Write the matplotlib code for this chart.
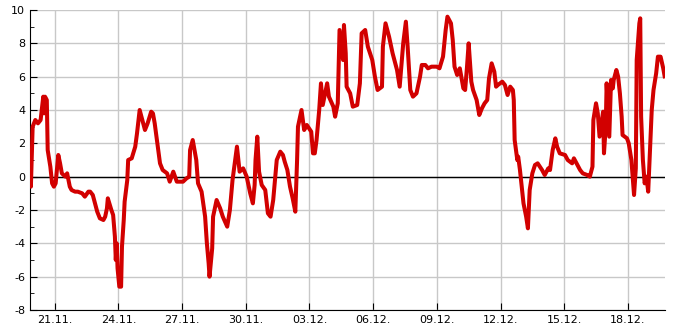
import numpy as np
import pandas as pd
import matplotlib
matplotlib.use('Agg')
import matplotlib.pyplot as plt
import matplotlib.dates as mdates
from matplotlib.ticker import MultipleLocator

plt.rcParams['axes.unicode_minus'] = False
plt.rcParams['font.family'] = 'DejaVu Sans'

# temperature readings, hours since 19.11. 20:00
start = pd.Timestamp('2023-11-19 20:00')
hours = [
    0, 1, 2, 3, 6, 9, 12, 15, 16, 17, 19, 20, 23, 25, 27, 29, 32, 34, 36, 40,
    42, 45, 47, 51, 54, 59, 62, 66, 68, 71, 76, 79, 83, 85, 87, 88, 92, 94, 96, 97,
    98, 99, 101, 103, 104, 106, 107, 110, 111, 115, 119, 121, 124, 128, 130, 133, 137, 139, 141, 145,
    147, 150, 155, 158, 162, 166, 170, 173, 177, 180, 181, 184, 188, 190, 194, 198, 200, 202, 203, 206,
    207, 211, 215, 218, 223, 226, 229, 233, 234, 237, 241, 245, 249, 252, 254, 255, 257, 259, 262, 266,
    269, 272, 275, 279, 283, 286, 288, 291, 294, 297, 300, 302, 303, 307, 310, 313, 318, 320, 322, 324,
    327, 329, 331, 336, 338, 343, 345, 348, 350, 354, 355, 357, 358, 362, 365, 370, 373, 375, 379, 382,
    387, 390, 393, 398, 399, 402, 406, 410, 415, 418, 422, 425, 427, 430, 433, 437, 441, 443, 447, 450,
    454, 460, 463, 467, 470, 472, 476, 478, 480, 483, 486, 490, 492, 494, 496, 499, 501, 505, 508, 511,
    514, 517, 519, 522, 525, 527, 529, 534, 537, 540, 543, 546, 547, 548, 551, 552, 554, 556, 558, 561,
    563, 565, 568, 571, 574, 579, 582, 586, 588, 591, 594, 596, 599, 605, 608, 613, 615, 618, 622, 625,
    630, 633, 636, 637, 640, 642, 644, 648, 649, 651, 652, 655, 657, 659, 660, 663, 665, 667, 669, 670,
    675, 677, 680, 682, 683, 685, 686, 689, 690, 691, 693, 695, 697, 699, 701, 703, 705, 708, 710, 713,
    716, 718,
]
temps = [
    0.7, -0.6, 1.2, 3.0, 3.4, 3.2, 3.4, 4.8, 3.8, 4.8, 4.6, 1.6, 0.6, -0.4, -0.6, -0.4, 1.3, 0.8, 0.2, 0.0,
    0.2, -0.6, -0.8, -0.9, -0.9, -1.0, -1.2, -0.9, -0.9, -1.1, -2.1, -2.5, -2.6, -2.4, -1.9, -1.3, -2.0, -2.3, -3.6, -5.0,
    -4.0, -5.5, -6.6, -6.6, -4.2, -2.6, -1.5, -0.2, 1.0, 1.1, 1.8, 2.6, 4.0, 3.2, 2.8, 3.2, 3.9, 3.8, 3.2, 1.6,
    0.8, 0.4, 0.2, -0.3, 0.3, -0.3, -0.3, -0.3, -0.1, 0.0, 1.6, 2.2, 1.0, -0.4, -0.9, -2.4, -4.0, -5.2, -6.0, -4.3,
    -2.4, -1.4, -1.9, -2.4, -3.0, -2.0, -0.2, 1.4, 1.8, 0.3, 0.5, 0.0, -1.0, -1.6, -0.5, 1.0, 2.4, 0.3, -0.5, -0.8,
    -2.2, -2.4, -1.4, 1.0, 1.5, 1.3, 0.9, 0.4, -0.6, -1.3, -2.1, 1.0, 3.0, 4.0, 2.8, 3.1, 2.7, 1.4, 1.4, 2.2,
    4.0, 5.6, 4.3, 5.6, 4.8, 4.2, 3.6, 4.4, 8.8, 7.0, 9.1, 7.4, 5.4, 5.0, 4.2, 4.3, 5.6, 8.6, 8.8, 7.8,
    7.0, 6.0, 5.2, 5.4, 7.8, 9.2, 8.4, 7.4, 6.4, 5.4, 8.0, 9.3, 7.8, 5.2, 4.8, 5.0, 6.0, 6.7, 6.7, 6.5,
    6.6, 6.6, 6.5, 7.2, 8.8, 9.6, 9.2, 8.2, 6.6, 6.1, 6.5, 5.3, 5.2, 6.5, 8.0, 5.7, 5.2, 4.6, 3.7, 4.1,
    4.4, 4.6, 5.9, 6.8, 6.3, 5.4, 5.5, 5.7, 5.5, 4.9, 5.4, 5.2, 4.6, 2.2, 1.0, 1.2, 0.4, -0.6, -1.6, -2.4,
    -3.1, -0.8, 0.2, 0.7, 0.8, 0.4, 0.1, 0.5, 0.4, 1.6, 2.3, 1.8, 1.4, 1.3, 1.0, 0.8, 1.1, 0.8, 0.4, 0.2,
    0.1, 0.0, 0.6, 3.4, 4.4, 3.8, 2.4, 3.9, 1.4, 3.0, 5.6, 2.4, 5.8, 5.3, 5.8, 6.4, 6.0, 5.0, 3.6, 2.5,
    2.3, 2.0, 1.0, -0.4, -1.1, 0.5, 7.0, 9.2, 9.5, 3.6, 1.0, -0.4, 0.0, -0.9, 1.6, 4.0, 5.2, 6.2, 7.2, 7.2,
    6.5, 5.9,
]
tick_days = pd.date_range('2023-11-21', periods=10, freq='3D')

times = start + pd.to_timedelta(hours, unit='h')

fig = plt.figure(figsize=(6.85, 3.3), dpi=100)
ax = fig.add_axes([30 / 685, 20 / 330, 635 / 685, 300 / 330])

ax.grid(True, color='#c8c8c8', linewidth=1)
ax.set_axisbelow(True)
ax.axhline(0, color='black', linewidth=1, zorder=2)
ax.plot(times, temps, color='#d20000', linewidth=2.9, zorder=3,
        solid_joinstyle='round', solid_capstyle='butt')

ax.set_ylim(-8, 10)
ax.set_xlim(times[0], times[-1])
ax.yaxis.set_major_locator(MultipleLocator(2))
ax.yaxis.set_minor_locator(MultipleLocator(1))
ax.set_xticks(tick_days)
ax.xaxis.set_major_formatter(mdates.DateFormatter('%d.%m.'))

for side in ['top', 'right']:
    ax.spines[side].set_visible(False)
ax.tick_params(axis='both', which='major', direction='in', length=5,
               labelsize=8, colors='black')
ax.tick_params(axis='y', which='minor', direction='in', length=3)

fig.savefig('out.png', dpi=100)
